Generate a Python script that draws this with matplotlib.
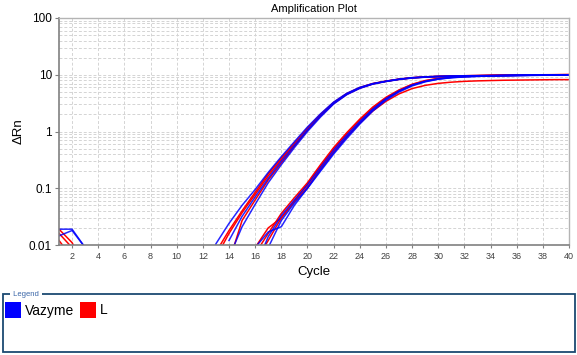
import matplotlib
matplotlib.use("Agg")
import matplotlib.pyplot as plt
from matplotlib.patches import Rectangle
from matplotlib.ticker import FixedLocator, LogLocator, NullFormatter

plt.rcParams["font.family"] = ["Liberation Sans", "DejaVu Sans"]

# ---------------------------------------------------------------------------
# Data (ΔRn per cycle 1..40)
# ---------------------------------------------------------------------------
CYCLES = list(range(1, 41))
X_TICKS = list(range(2, 41, 2))
Y_TICKS = [0.01, 0.1, 1, 10, 100]
Y_TICK_LABELS = ["0.01", "0.1", "1", "10", "100"]

# early group, Vazyme
VAZ_A1 = [0.019, 0.019, 0.009, 0.003, 0.003, 0.003, 0.003, 0.003, 0.003, 0.003,
          0.003, 0.002, 0.0105, 0.024, 0.05, 0.095, 0.19, 0.36, 0.66, 1.2,
          2.05, 3.3, 4.7, 6.0, 7.0, 7.7, 8.4, 8.9, 9.2, 9.4,
          9.5, 9.6, 9.65, 9.7, 9.75, 9.8, 9.85, 9.9, 9.95, 10.0]
VAZ_A2 = [0.0145, 0.018, 0.009, 0.003, 0.003, 0.003, 0.003, 0.003, 0.003, 0.003,
          0.003, 0.003, -0.004, 0.012, 0.032, 0.07, 0.15, 0.3, 0.57, 1.07,
          1.9, 3.15, 4.55, 5.85, 6.9, 7.65, 8.3, 8.8, 9.1, 9.3,
          9.45, 9.55, 9.6, 9.65, 9.7, 9.75, 9.8, 9.85, 9.9, 9.95]
VAZ_A3 = [0.004, 0.003, 0.003, 0.003, 0.003, 0.003, 0.003, 0.003, 0.003, 0.003,
          0.003, 0.003, 0.002, 0.006, 0.021, 0.052, 0.125, 0.26, 0.52, 1.0,
          1.8, 3.05, 4.45, 5.75, 6.85, 7.6, 8.25, 8.75, 9.05, 9.25,
          9.4, 9.5, 9.55, 9.6, 9.65, 9.7, 9.75, 9.8, 9.85, 9.9]
# early group, L
L_A1 = [0.019, 0.011, 0.004, 0.003, 0.003, 0.003, 0.003, 0.003, 0.003, 0.003,
        0.003, 0.002, 0.0075, 0.018, 0.04, 0.085, 0.18, 0.34, 0.63, 1.15,
        2.0, 3.25, 4.65, 5.95, 7.0, 7.7, 8.35, 8.85, 9.15, 9.35,
        9.5, 9.6, 9.65, 9.7, 9.75, 9.8, 9.85, 9.9, 9.95, 10.0]
L_A2 = [0.016, 0.009, 0.003, 0.003, 0.003, 0.003, 0.003, 0.003, 0.003, 0.003,
        0.003, 0.003, 0.002, 0.005, 0.027, 0.062, 0.14, 0.28, 0.55, 1.05,
        1.88, 3.1, 4.5, 5.8, 6.9, 7.65, 8.3, 8.8, 9.1, 9.3,
        9.45, 9.55, 9.6, 9.65, 9.7, 9.75, 9.8, 9.85, 9.9, 9.95]
L_A3 = [0.012, 0.006, 0.003, 0.003, 0.003, 0.003, 0.003, 0.003, 0.003, 0.003,
        0.003, 0.003, 0.006, 0.016, 0.037, 0.078, 0.165, 0.32, 0.6, 1.12,
        1.97, 3.2, 4.6, 5.9, 6.95, 7.7, 8.35, 8.85, 9.15, 9.35,
        9.5, 9.6, 9.7, 9.75, 9.8, 9.85, 9.9, 9.95, 10.0, 10.05]

# late group, Vazyme
VAZ_B1 = [0.004, 0.003, 0.003, 0.003, 0.003, 0.003, 0.003, 0.003, 0.003, 0.003,
          0.003, 0.003, 0.003, 0.003, 0.002, 0.009, 0.017, 0.021, 0.05, 0.1,
          0.21, 0.42, 0.8, 1.42, 2.4, 3.7, 5.1, 6.5, 7.6, 8.4,
          8.9, 9.2, 9.4, 9.55, 9.65, 9.75, 9.8, 9.85, 9.9, 9.95]
VAZ_B2 = [0.003, 0.003, 0.003, 0.003, 0.003, 0.003, 0.003, 0.003, 0.003, 0.003,
          0.003, 0.003, 0.003, 0.003, 0.002, 0.004, 0.014, 0.033, 0.062, 0.115,
          0.235, 0.47, 0.86, 1.5, 2.5, 3.8, 5.2, 6.6, 7.7, 8.5,
          9.0, 9.3, 9.5, 9.6, 9.7, 9.75, 9.8, 9.85, 9.9, 9.95]
VAZ_B3 = [0.003, 0.003, 0.003, 0.003, 0.003, 0.003, 0.003, 0.003, 0.003, 0.003,
          0.003, 0.003, 0.003, 0.003, 0.002, -0.002, 0.009, 0.027, 0.055, 0.1,
          0.2, 0.4, 0.75, 1.35, 2.3, 3.55, 4.95, 6.35, 7.5, 8.35,
          8.85, 9.15, 9.35, 9.5, 9.6, 9.7, 9.75, 9.8, 9.85, 9.9]
# late group, L
L_B1 = [0.003, 0.003, 0.003, 0.003, 0.003, 0.003, 0.003, 0.003, 0.003, 0.003,
        0.003, 0.003, 0.003, 0.003, 0.002, 0.007, 0.016, 0.036, 0.068, 0.125,
        0.26, 0.52, 0.95, 1.65, 2.7, 4.0, 5.4, 6.8, 7.9, 8.65,
        9.1, 9.4, 9.6, 9.75, 9.85, 9.9, 9.95, 10.0, 10.05, 10.1]
L_B2 = [0.003, 0.003, 0.003, 0.003, 0.003, 0.003, 0.003, 0.003, 0.003, 0.003,
        0.003, 0.003, 0.003, 0.003, 0.002, 0.005, 0.012, 0.03, 0.058, 0.105,
        0.22, 0.44, 0.8, 1.4, 2.3, 3.4, 4.6, 5.7, 6.5, 7.05,
        7.4, 7.65, 7.8, 7.9, 8.0, 8.05, 8.1, 8.15, 8.2, 8.2]
L_B3 = [0.003, 0.003, 0.003, 0.003, 0.003, 0.003, 0.003, 0.003, 0.003, 0.003,
        0.003, 0.003, 0.003, 0.003, 0.002, 0.009, 0.02, 0.03, 0.06, 0.118,
        0.245, 0.49, 0.9, 1.57, 2.6, 3.9, 5.3, 6.7, 7.8, 8.55,
        9.0, 9.3, 9.5, 9.65, 9.75, 9.8, 9.85, 9.9, 9.95, 10.0]

VAZYME = [VAZ_A1, VAZ_A2, VAZ_A3, VAZ_B1, VAZ_B2, VAZ_B3]
L_SAMPLES = [L_A1, L_A2, L_A3, L_B1, L_B2, L_B3]

BLUE = "#0000ff"
RED = "#ff0000"

# ---------------------------------------------------------------------------
# Figure
# ---------------------------------------------------------------------------
W, H = 577, 355
fig = plt.figure(figsize=(W / 100, H / 100), dpi=100)
ax = fig.add_axes([59 / W, 1 - 245 / H, 510 / W, 227 / H])

# L first, Vazyme on top (the bundles read blue/purple in the original)
for ls in L_SAMPLES:
    ax.plot(CYCLES, ls, color=RED, lw=1.1)
for vaz in VAZYME:
    ax.plot(CYCLES, vaz, color=BLUE, lw=1.1, alpha=0.85)

ax.set_yscale("log", nonpositive="mask")
ax.set_xlim(1, 40)
ax.set_ylim(0.01, 100)

ax.xaxis.set_major_locator(FixedLocator(X_TICKS))
ax.yaxis.set_major_locator(FixedLocator(Y_TICKS))
ax.set_yticklabels(Y_TICK_LABELS)
ax.yaxis.set_minor_locator(LogLocator(base=10, subs=range(2, 10)))
ax.yaxis.set_minor_formatter(NullFormatter())

ax.tick_params(axis="x", labelsize=6.5, labelcolor="#404040", length=2,
               color="#808080", pad=3)
ax.tick_params(axis="y", labelsize=8.5, labelcolor="black", length=3,
               color="#808080", pad=2)
ax.tick_params(axis="y", which="minor", length=0)

grid_kw = dict(color="#d4d4d4", linestyle=(0, (3, 2)), linewidth=0.7)
ax.grid(True, which="major", **grid_kw)
ax.grid(True, which="minor", axis="y", **grid_kw)

for side in ("left", "bottom"):
    ax.spines[side].set_color("#808080")
    ax.spines[side].set_linewidth(1.2)
for side in ("top", "right"):
    ax.spines[side].set_color("#b4b4b4")
    ax.spines[side].set_linewidth(1.0)

ax.set_xlabel("Cycle", fontsize=9.5, labelpad=4)
ax.set_ylabel("ΔRn", fontsize=9.5, labelpad=3)
ax.set_title("Amplification Plot", fontsize=8, pad=4)

# ---------------------------------------------------------------------------
# Legend panel (pixel coordinates)
# ---------------------------------------------------------------------------
ov = fig.add_axes([0, 0, 1, 1], zorder=5)
ov.set_xlim(0, W)
ov.set_ylim(H, 0)
ov.axis("off")
ov.patch.set_alpha(0)

ov.add_patch(Rectangle((2.5, 294), 572, 57.5, fill=False,
                       edgecolor="#1b4a72", linewidth=1.3))
ov.text(11, 294, " Legend ", fontsize=5.5, color="#3a66a8", va="center",
        ha="left", bbox=dict(facecolor="white", edgecolor="none", pad=0.5))

ov.add_patch(Rectangle((5, 302), 15.5, 15.5, facecolor=BLUE, edgecolor="none"))
ov.text(25, 310.5, "Vazyme", fontsize=10, va="center", ha="left")
ov.add_patch(Rectangle((80, 302), 15.5, 15.5, facecolor=RED, edgecolor="none"))
ov.text(100, 310.5, "L", fontsize=10, va="center", ha="left")

fig.savefig("out.png", dpi=100)
plt.close(fig)
